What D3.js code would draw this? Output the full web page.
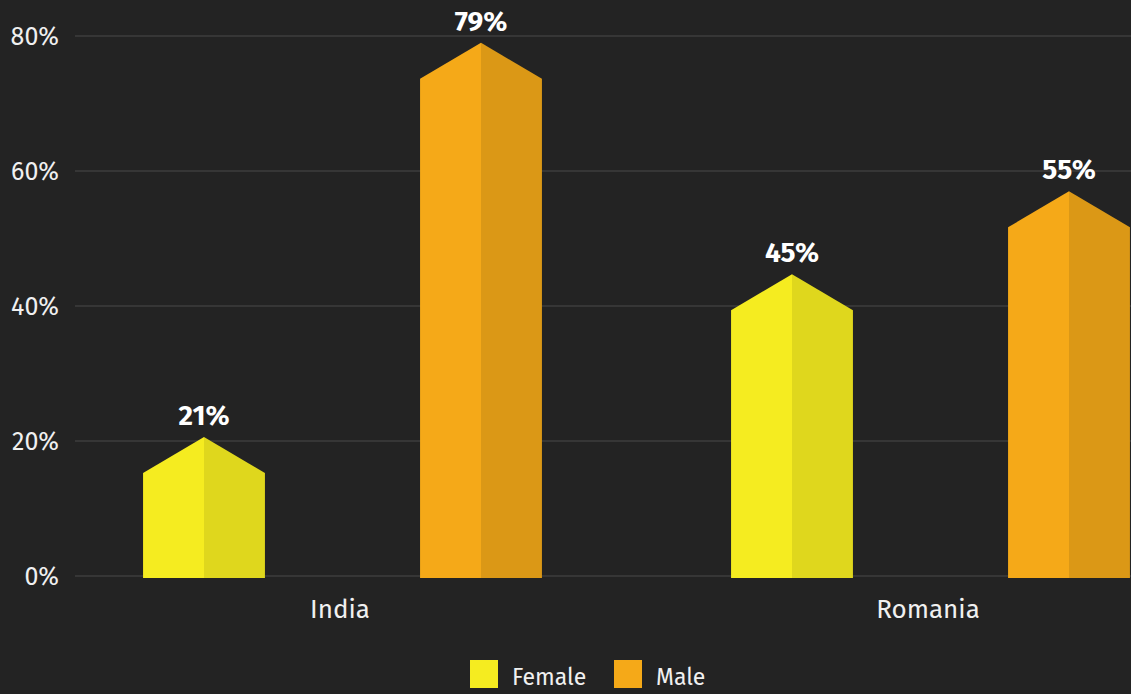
<!DOCTYPE html>
<html>
<head>
<meta charset="utf-8">
<script src="https://cdn.jsdelivr.net/npm/d3@7"></script>
<style>
  html, body { margin: 0; padding: 0; background: #232323; }
  svg { display: block; font-family: "Fira Sans", "Open Sans", sans-serif; }
</style>
</head>
<body>
<svg id="chart" width="1131" height="694"></svg>
<script>
// data (heights as drawn, labels as printed)
const countries = ["India", "Romania"];
const series = ["Female", "Male"];
const female = [20.6, 44.7];
const male = [79, 57];
const femaleLabels = ["21%", "45%"];
const maleLabels = ["79%", "55%"];
const yTicks = [0, 20, 40, 60, 80];

const colors = {
  Female: { light: "#f5ec20", dark: "#dfd71d" },
  Male: { light: "#f5a918", dark: "#db9816" }
};

const svg = d3.select("#chart");
const W = 1131, H = 694;

svg.append("rect").attr("width", W).attr("height", H).attr("fill", "#232323");

// scales
const y = d3.scaleLinear().domain([0, 80]).range([576, 36]);
const x = d3.scaleBand().domain(countries).range([46, 1222]);
const xSub = d3.scaleBand().domain(series)
  .range([19.5, 573.5])
  .paddingInner(0.56)
  .paddingOuter(0.28);

// grid + y labels
const grid = svg.append("g");
grid.selectAll("line").data(yTicks).join("line")
  .attr("x1", 75).attr("x2", W)
  .attr("y1", d => y(d)).attr("y2", d => y(d))
  .attr("stroke", "#363636").attr("stroke-width", 2);

grid.selectAll("text").data(yTicks).join("text")
  .attr("x", 59).attr("y", d => y(d))
  .attr("dy", "0.36em")
  .attr("text-anchor", "end")
  .attr("fill", "#f0f0f0")
  .attr("font-size", 25)
  .text(d => d + "%");

// bars shaped like little houses
const rows = [];
countries.forEach((c, i) => {
  rows.push({ country: c, key: "Female", value: female[i], label: femaleLabels[i] });
  rows.push({ country: c, key: "Male", value: male[i], label: maleLabels[i] });
});

const roof = 36; // px from peak to shoulder
const bars = svg.append("g");

rows.forEach(d => {
  const x0 = x(d.country) + xSub(d.key);
  const w = xSub.bandwidth();
  const xm = x0 + w / 2;
  const top = y(d.value);
  const base = y(0) + 2;
  // left (lighter) half
  bars.append("path")
    .attr("d", `M${x0},${base} L${x0},${top + roof} L${xm},${top} L${xm},${base} Z`)
    .attr("fill", colors[d.key].light);
  // right (darker) half
  bars.append("path")
    .attr("d", `M${xm},${base} L${xm},${top} L${x0 + w},${top + roof} L${x0 + w},${base} Z`)
    .attr("fill", colors[d.key].dark);
  // value label
  bars.append("text")
    .attr("x", xm).attr("y", top - 12)
    .attr("text-anchor", "middle")
    .attr("fill", "#ffffff")
    .attr("font-size", 28)
    .attr("font-weight", "bold")
    .text(d.label);
});

// category labels
svg.append("g").selectAll("text").data(countries).join("text")
  .attr("x", d => x(d) + x.bandwidth() / 2)
  .attr("y", 609).attr("dy", "0.35em")
  .attr("text-anchor", "middle")
  .attr("fill", "#f0f0f0")
  .attr("font-size", 26)
  .text(d => d);

// legend
const legendX = [470, 614];
const legend = svg.append("g").selectAll("g").data(series).join("g")
  .attr("transform", (d, i) => `translate(${legendX[i]},660)`);
legend.append("rect")
  .attr("width", 28).attr("height", 28)
  .attr("fill", d => colors[d].light);
legend.append("text")
  .attr("x", 42).attr("y", 17).attr("dy", "0.35em")
  .attr("fill", "#f0f0f0")
  .attr("font-size", 23)
  .text(d => d);
</script>
</body>
</html>
